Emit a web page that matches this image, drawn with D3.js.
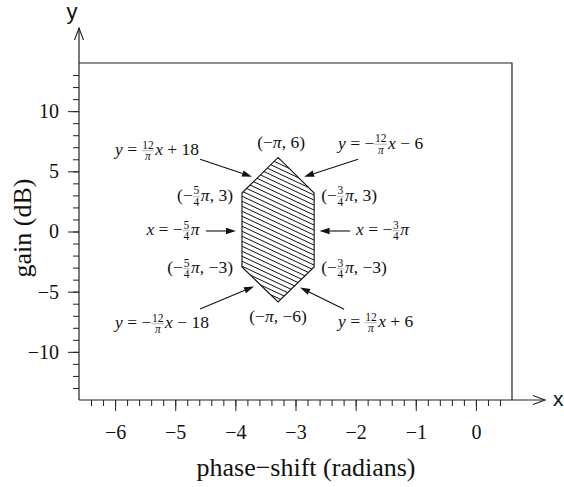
<!DOCTYPE html>
<html><head><meta charset="utf-8">
<script src="https://cdn.jsdelivr.net/npm/d3@7"></script>
<style>body{margin:0;background:#fff} svg{display:block}</style>
</head><body><svg id="c" width="564" height="487"></svg>
<script>
// ---- data ----
const xTicks = [-6, -5, -4, -3, -2, -1, 0];
const yTicks = [-10, -5, 0, 5, 10];
const xDomain = [-6.6, 0.6];
const yDomain = [-14, 14];
// hexagon vertices as drawn in the picture
const hexX = [-3.89, -3.29, -2.69, -2.69, -3.29, -3.89];
const hexY = [3.2, 6.15, 3.2, -2.95, -5.85, -2.95];
const xLabel = "phase\u2212shift (radians)";
const yLabel = "gain (dB)";

const svg = d3.select("#c");
const L = 79, R = 512, T = 63, B = 400;
const x = d3.scaleLinear().domain(xDomain).range([L, R]);
const y = d3.scaleLinear().domain(yDomain).range([B, T]);
const ink = "#222";
const serif = "'Liberation Serif','Times New Roman',serif";
const sans = "'Liberation Sans',Arial,sans-serif";

// frame (top and right)
svg.append("path").attr("d", `M${L},${T}H${R}V${B}`).attr("fill", "none").attr("stroke", ink).attr("stroke-width", 1.2);

const fmt = d => d < 0 ? "\u2212" + Math.abs(d) : String(d);

// x axis
const xMinor = d3.range(-32, 3).map(k => k * 0.2).filter(v => v > xDomain[0] + 1e-6 && v < xDomain[1] - 1e-6);
const gx = svg.append("g").attr("transform", `translate(0,${B})`)
  .call(d3.axisBottom(x).tickValues(xMinor).tickSize(6).tickFormat(""));
const gx2 = svg.append("g").attr("transform", `translate(0,${B})`)
  .call(d3.axisBottom(x).tickValues(xTicks).tickSize(11).tickPadding(14).tickFormat(fmt));

// y axis
const yMinor = d3.range(-13, 14);
const gy = svg.append("g").attr("transform", `translate(${L},0)`)
  .call(d3.axisLeft(y).tickValues(yMinor).tickSize(6).tickFormat(""));
const gy2 = svg.append("g").attr("transform", `translate(${L},0)`)
  .call(d3.axisLeft(y).tickValues(yTicks).tickSize(11).tickPadding(9).tickFormat(fmt));
[gx, gx2, gy, gy2].forEach(g => {
  g.select(".domain").remove();
  g.selectAll("line").attr("stroke", ink);
  g.attr("font-family", serif).attr("font-size", 20);
  g.selectAll("text").attr("font-family", serif).attr("font-size", 20).attr("fill", "#111");
});

// axis lines with arrows
svg.append("line").attr("x1", L).attr("y1", B).attr("x2", 545).attr("y2", B).attr("stroke", ink).attr("stroke-width", 1.2);
svg.append("line").attr("x1", L).attr("y1", B).attr("x2", L).attr("y2", 28).attr("stroke", ink).attr("stroke-width", 1.2);
svg.append("path").attr("d", "M533,395.5L545,400L533,404.5").attr("fill", "none").attr("stroke", ink).attr("stroke-width", 1.1);
svg.append("path").attr("d", `M${L-4.5},40L${L},28L${L+4.5},40`).attr("fill", "none").attr("stroke", ink).attr("stroke-width", 1.1);
svg.append("text").attr("x", 553).attr("y", 406).attr("font-family", sans).attr("font-size", 21).attr("fill", "#111").text("x");
svg.append("text").attr("x", 72).attr("y", 19).attr("text-anchor", "middle").attr("font-family", sans).attr("font-size", 22).attr("fill", "#111").text("y");

// axis titles
svg.append("text").attr("x", 306).attr("y", 476).attr("text-anchor", "middle").attr("font-family", serif).attr("font-size", 26).attr("fill", "#111").text(xLabel);
svg.append("text").attr("transform", "translate(31,228) rotate(-90)").attr("text-anchor", "middle").attr("font-family", serif).attr("font-size", 26).attr("fill", "#111").text(yLabel);

// hexagon with hatching
const pts = hexX.map((v, i) => [x(v), y(hexY[i])]);
const line = d3.line();
svg.append("clipPath").attr("id", "hexclip").append("path").attr("d", line(pts) + "Z");
const hx0 = d3.min(pts, p => p[0]) - 5, hx1 = d3.max(pts, p => p[0]) + 5;
const hy0 = d3.min(pts, p => p[1]), hy1 = d3.max(pts, p => p[1]);
const slope = 0.47, spacing = 5.0;
const hatch = svg.append("g").attr("clip-path", "url(#hexclip)");
for (let yy = hy0 - slope * (hx1 - hx0) - 10; yy < hy1 + 10; yy += spacing) {
  hatch.append("line").attr("x1", hx0).attr("y1", yy).attr("x2", hx1).attr("y2", yy + slope * (hx1 - hx0))
    .attr("stroke", "#111").attr("stroke-width", 1);
}
svg.append("path").attr("d", line(pts) + "Z").attr("fill", "none").attr("stroke", "#111").attr("stroke-width", 1.1);

// ---- math labels ----
const FS = 17.5, FF = 11.5;
function mathLabel(parts, px, py, anchor) {
  const g = svg.append("g");
  let cx = 0;
  parts.forEach(p => {
    if (p.f) {
      const a = g.append("text").attr("y", -6.5).attr("font-size", FF).attr("font-family", serif).text(p.f[0]);
      const b = g.append("text").attr("y", 5).attr("font-size", FF).attr("font-family", serif).attr("font-style", p.fi ? "italic" : "normal").text(p.f[1]);
      const wa = a.node().getComputedTextLength(), wb = b.node().getComputedTextLength();
      const w = Math.max(wa, wb) + 1.5;
      a.attr("x", cx + (w - wa) / 2); b.attr("x", cx + (w - wb) / 2);
      g.append("line").attr("x1", cx + 0.3).attr("x2", cx + w - 0.3).attr("y1", -4.3).attr("y2", -4.3).attr("stroke", "#555").attr("stroke-width", 0.45);
      cx += w + 0.8;
    } else {
      const t = g.append("text").attr("x", cx).attr("y", 0).attr("font-size", FS).attr("font-family", serif)
        .attr("font-style", p.i ? "italic" : "normal").attr("xml:space", "preserve").style("white-space", "pre").text(p.t);
      cx += t.node().getComputedTextLength();
    }
  });
  g.selectAll("text").attr("fill", "#111");
  const off = anchor === "end" ? -cx : anchor === "middle" ? -cx / 2 : 0;
  g.attr("transform", `translate(${px + off},${py})`);
}
function arrow(x1, y1, x2, y2) {
  const ang = Math.atan2(y2 - y1, x2 - x1), len = 10, hw = 3.2;
  const bx = x2 - len * Math.cos(ang), by = y2 - len * Math.sin(ang);
  svg.append("line").attr("x1", x1).attr("y1", y1).attr("x2", bx).attr("y2", by).attr("stroke", "#111").attr("stroke-width", 1.1);
  const nx = -Math.sin(ang) * hw, ny = Math.cos(ang) * hw;
  svg.append("path").attr("d", `M${x2},${y2}L${bx + nx},${by + ny}L${bx - nx},${by - ny}Z`).attr("fill", "#111");
}
const mid = (a, b) => [(pts[a][0] + pts[b][0]) / 2, (pts[a][1] + pts[b][1]) / 2];
const PI = "\u03c0", M = "\u2212";

// vertex labels
mathLabel([{t: "(" + M}, {t: PI, i: 1}, {t: ", 6)"}], pts[1][0] + 3, pts[1][1] - 9, "middle");
mathLabel([{t: "(" + M}, {f: ["5", "4"]}, {t: PI, i: 1}, {t: ", 3)"}], pts[0][0] - 9, pts[0][1] + 8, "end");
mathLabel([{t: "(" + M}, {f: ["3", "4"]}, {t: PI, i: 1}, {t: ", 3)"}], pts[2][0] + 7, pts[2][1] + 8, "start");
mathLabel([{t: "(" + M}, {f: ["5", "4"]}, {t: PI, i: 1}, {t: ", " + M + "3)"}], pts[5][0] - 9, pts[5][1] + 6, "end");
mathLabel([{t: "(" + M}, {f: ["3", "4"]}, {t: PI, i: 1}, {t: ", " + M + "3)"}], pts[3][0] + 7, pts[3][1] + 6, "start");
mathLabel([{t: "(" + M}, {t: PI, i: 1}, {t: ", " + M + "6)"}], pts[4][0], pts[4][1] + 20, "middle");

// edge labels and arrows
let m = mid(0, 1);
arrow(m[0] - 60, m[1] - 16, m[0] - 8, m[1] + 1.5);
mathLabel([{t: "y", i: 1}, {t: " = "}, {f: ["12", PI], fi: 1}, {t: "x", i: 1}, {t: " + 18"}], 115, 155, "start");
m = mid(1, 2);
arrow(m[0] + 62, m[1] - 16, m[0] + 8, m[1] + 1.5);
mathLabel([{t: "y", i: 1}, {t: " = " + M}, {f: ["12", PI], fi: 1}, {t: "x", i: 1}, {t: " " + M + " 6"}], 338, 148.5, "start");
m = mid(5, 0);
arrow(m[0] - 36, m[1] + 1, m[0] - 6, m[1] + 1);
mathLabel([{t: "x", i: 1}, {t: " = " + M}, {f: ["5", "4"]}, {t: PI, i: 1}], 199.5, 235, "end");
m = mid(2, 3);
arrow(m[0] + 36, m[1] + 1, m[0] + 5.5, m[1] + 1);
mathLabel([{t: "x", i: 1}, {t: " = " + M}, {f: ["3", "4"]}, {t: PI, i: 1}], 356, 235, "start");
m = mid(4, 5);
arrow(m[0] - 60, m[1] + 24.5, m[0] - 6, m[1] + 2);
mathLabel([{t: "y", i: 1}, {t: " = " + M}, {f: ["12", PI], fi: 1}, {t: "x", i: 1}, {t: " " + M + " 18"}], 115, 328, "start");
m = mid(3, 4);
arrow(m[0] + 48, m[1] + 24.8, m[0] + 4, m[1] + 3);
mathLabel([{t: "y", i: 1}, {t: " = "}, {f: ["12", PI], fi: 1}, {t: "x", i: 1}, {t: " + 6"}], 338, 327, "start");
</script></body></html>
